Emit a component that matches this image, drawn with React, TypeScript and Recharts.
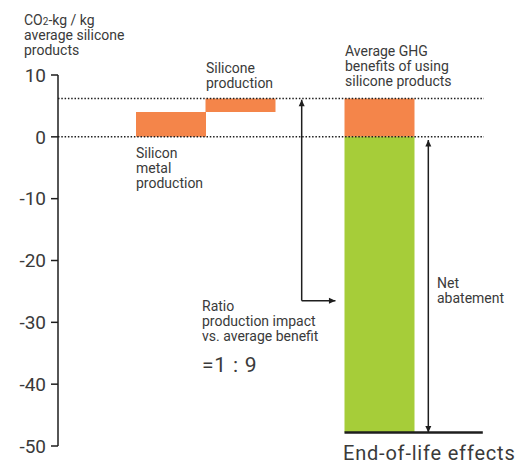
import React from "react";
import { BarChart, Bar, XAxis, YAxis, ReferenceLine } from "recharts";

// ---- data ----
const CATEGORIES = ["Silicon metal production", "Silicone production", "", "End-of-life effects"];
const BASE = [0, 4.0, 0, 0];
const PRODUCTION = [4.0, 2.2, 0, 6.2];
const ABATEMENT = [0, 0, 0, -47.8];
const Y_TICKS = [10, 0, -10, -20, -30, -40, -50];
const BENEFIT_LEVEL = 6.2;
const RATIO_ARROW_LEVEL = -26.5;

// ---- style ----
const FONT = "Roboto, 'Open Sans', sans-serif";
const ORANGE = "#F4854A";
const GREEN = "#A6CD39";
const INK = "#1e1e1e";
const TEXT = "#3a3a3a";

const W = 517;
const H = 465;
const PAD_LEFT = 78;
const PAD_RIGHT = 70;
const PLOT_LEFT = 58;
const PLOT_RIGHT = 484;
const BAND = (PLOT_RIGHT - PLOT_LEFT - PAD_LEFT - PAD_RIGHT) / CATEGORIES.length;
// numeric companion axis: band i center = i
const NUM_MIN = -0.5 - PAD_LEFT / BAND;
const NUM_MAX = CATEGORIES.length - 0.5 + PAD_RIGHT / BAND;

const data = CATEGORIES.map((name, i) => ({
  name,
  idx: i,
  base: BASE[i],
  production: PRODUCTION[i],
  abatement: ABATEMENT[i],
}));

function head(x: number, y: number, ux: number, uy: number) {
  const len = 6.5;
  const half = 3;
  const bx = x - ux * len;
  const by = y - uy * len;
  const px = -uy;
  const py = ux;
  return `${x},${y} ${bx + px * half},${by + py * half} ${bx - px * half},${by - py * half}`;
}

const arrowShape = (heads: "none" | "end" | "both", width = 1.5) => (props: any) => {
  const { x1, y1, x2, y2 } = props;
  const dx = x2 - x1;
  const dy = y2 - y1;
  const L = Math.sqrt(dx * dx + dy * dy) || 1;
  const ux = dx / L;
  const uy = dy / L;
  return (
    <g>
      <line x1={x1} y1={y1} x2={x2} y2={y2} stroke={INK} strokeWidth={width} />
      {heads !== "none" && <polygon points={head(x2, y2, ux, uy)} fill={INK} />}
      {heads === "both" && <polygon points={head(x1, y1, -ux, -uy)} fill={INK} />}
    </g>
  );
};

const Lines = ({ x, y, lines, size = 14, lh = 15, ls = 0 }: { x: number; y: number; lines: string[]; size?: number; lh?: number; ls?: number }) => (
  <text x={x} y={y} fontFamily={FONT} fontSize={size} fill={TEXT} letterSpacing={ls}>
    {lines.map((l, i) => (
      <tspan key={i} x={x} dy={i === 0 ? 0 : lh}>
        {l}
      </tspan>
    ))}
  </text>
);

export default function App() {
  return (
    <div style={{ position: "absolute", left: 0, top: 0 }}>
      <BarChart
        width={W}
        height={H}
        data={data}
        stackOffset="sign"
        barCategoryGap={0}
        barGap={0}
        margin={{ top: 75, right: W - PLOT_RIGHT, bottom: 19, left: 0 }}
      >
        <XAxis dataKey="name" hide padding={{ left: PAD_LEFT, right: PAD_RIGHT }} />
        <XAxis
          xAxisId="num"
          dataKey="idx"
          type="number"
          hide
          domain={[NUM_MIN, NUM_MAX]}
          allowDataOverflow
        />
        <YAxis
          width={PLOT_LEFT}
          domain={[-50, 10]}
          ticks={Y_TICKS}
          interval={0}
          allowDataOverflow
          tickSize={7}
          tickMargin={5}
          axisLine={{ stroke: INK, strokeWidth: 1.5 }}
          tickLine={{ stroke: INK, strokeWidth: 1.5 }}
          tick={{ fontSize: 19, fill: TEXT, fontFamily: FONT }}
        />
        <Bar dataKey="base" stackId="w" fill="transparent" isAnimationActive={false} />
        <Bar dataKey="production" stackId="w" fill={ORANGE} isAnimationActive={false} />
        <Bar dataKey="abatement" stackId="w" fill={GREEN} isAnimationActive={false} />

        <ReferenceLine y={0} stroke={INK} strokeWidth={1.5} strokeDasharray="1.5 1.8" />
        <ReferenceLine y={BENEFIT_LEVEL} stroke={INK} strokeWidth={1.5} strokeDasharray="1.5 1.8" />

        <ReferenceLine
          xAxisId="num"
          ifOverflow="visible"
          segment={[{ x: 1.884, y: RATIO_ARROW_LEVEL }, { x: 1.884, y: BENEFIT_LEVEL - 0.2 }]}
          shape={arrowShape("end")}
        />
        <ReferenceLine
          xAxisId="num"
          ifOverflow="visible"
          segment={[{ x: 1.884, y: RATIO_ARROW_LEVEL }, { x: 2.37, y: RATIO_ARROW_LEVEL }]}
          shape={arrowShape("end")}
        />
        <ReferenceLine
          xAxisId="num"
          ifOverflow="visible"
          segment={[{ x: 3.706, y: ABATEMENT[3] }, { x: 3.706, y: -0.5 }]}
          shape={arrowShape("both")}
        />
        <ReferenceLine
          xAxisId="num"
          ifOverflow="visible"
          segment={[{ x: 2.5, y: ABATEMENT[3] }, { x: 4.49, y: ABATEMENT[3] }]}
          shape={arrowShape("none", 2.5)}
        />

        <text x={24} y={25} fontFamily={FONT} fontSize={14} fill={TEXT}>
          <tspan>CO</tspan>
          <tspan fontSize={10}>2</tspan>
          <tspan>-kg / kg</tspan>
        </text>
        <Lines x={24} y={40} lines={["average silicone", "products"]} />

        <Lines x={136} y={158} lines={["Silicon", "metal", "production"]} />
        <Lines x={206} y={73} lines={["Silicone", "production"]} />
        <Lines x={345} y={56} lines={["Average GHG", "benefits of using", "silicone products"]} />
        <Lines x={343} y={460} lines={[CATEGORIES[3]]} size={20} ls={0.8} />
        <Lines x={437} y={288} lines={["Net", "abatement"]} />
        <Lines x={202} y={311} lines={["Ratio", "production impact", "vs. average benefit"]} />
        <Lines x={202} y={372} lines={["=1 : 9"]} size={21} ls={0.8} />
      </BarChart>
    </div>
  );
}
